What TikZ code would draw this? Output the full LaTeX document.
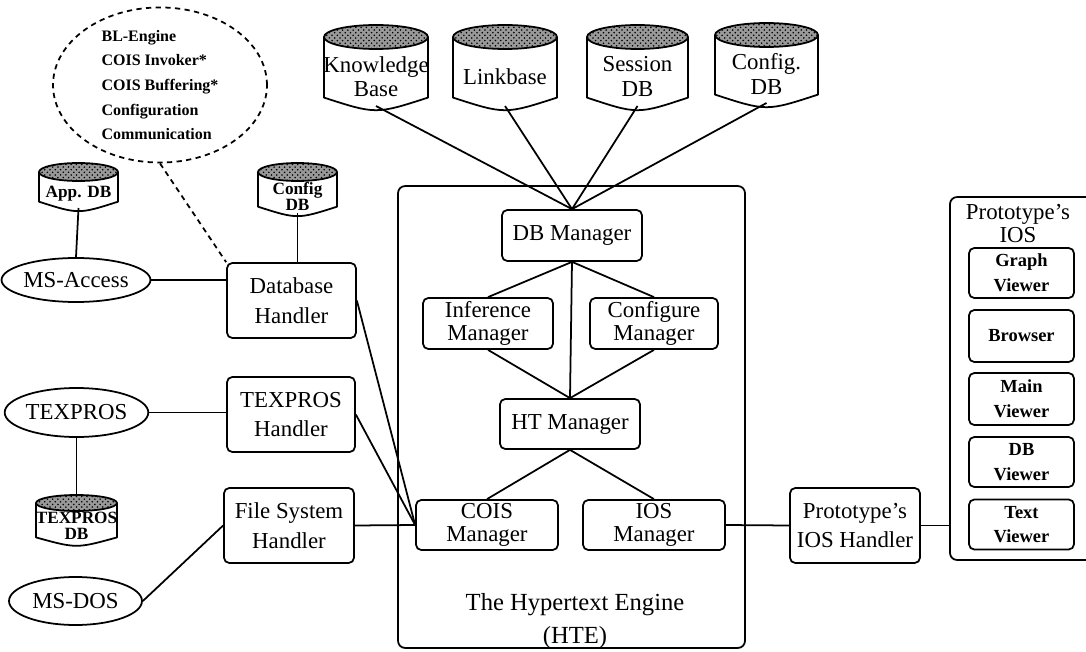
\documentclass[tikz,border=0pt]{standalone}
\usepackage{fontspec}
\setmainfont{Liberation Serif}
\usetikzlibrary{shapes.geometric,patterns}

\tikzset{
  every node/.style={font=\fontsize{13}{17}\selectfont},
  box/.style={draw, rounded corners=3pt, inner sep=0pt, align=center},
  mgr/.style={box, font=\fontsize{13}{13}\selectfont},
  viewer/.style={box, minimum width=2.1cm, minimum height=1cm,
    font=\bfseries\fontsize{10.5}{14}\selectfont},
  sys/.style={draw, ellipse, inner sep=0pt},
  dbtop/.style={fill=black!40, postaction={pattern=crosshatch dots, pattern color=black}},
  dbtext/.style={inner sep=0pt, align=center, font=\fontsize{13}{14}\selectfont},
  smalldb/.style={font=\bfseries\fontsize{9.8}{9}\selectfont},
}

% [options]{name}{x}{top}{width}{height}{top radius}{text}
\newcommand{\dbcyl}[8][]{%
  \coordinate (#2 top) at (#3,#4);
  \draw[dbtop] (#3,#4+#7) ellipse [x radius=#5/2, y radius=#7];
  \draw (#3-#5/2,#4+#7) -- (#3-#5/2,#4+#6-0.7*#7)
     .. controls (#3,#4+#6+0.7*#7) .. (#3+#5/2,#4+#6-0.7*#7) -- (#3+#5/2,#4+#7);
  \node[dbtext, #1, minimum width=#5*0.02cm, minimum height=(#6-2*#7)*0.02cm,
    anchor=south] (#2) at (#3,#4+#6) {#8};
}

\begin{document}
\begin{tikzpicture}[x=0.02cm, y=-0.02cm, line width=1pt, line join=round]
\clip (0,0) rectangle (1086,652);

% stores
\dbcyl{kb}{376}{25}{104}{81}{12}{Knowledge\\Base}
\dbcyl{lb}{505}{25}{104}{81}{12}{Linkbase}
\dbcyl{sdb}{637.5}{25}{101}{81}{12}{Session\\DB}
\dbcyl{cdb}{766.5}{23}{103}{80}{12}{Config.\\DB}
\dbcyl[smalldb]{appdb}{78.5}{163}{79}{45}{9}{App. DB}
\dbcyl[smalldb]{cfgdb}{297.5}{163}{79}{50}{9}{Config\\DB}
\dbcyl[smalldb]{tpdb}{76.5}{495}{81}{48}{8}{TEXPROS\\DB}

\node[draw, dashed, dash pattern=on 3pt off 2.5pt, ellipse, inner sep=0pt,
  minimum width=4.28cm, minimum height=2.88cm, align=left,
  font=\bfseries\fontsize{9.1}{14}\selectfont] (blmod) at (160,85)
  {BL-Engine\\COIS Invoker*\\COIS Buffering*\\Configuration\\Communication};

% the engine
\node[draw, rounded corners=4pt, minimum width=6.94cm, minimum height=9.24cm] (hte) at (571.5,417) {};
\node[font=\fontsize{14}{19}\selectfont, align=center] (htename) at (575,621) {The Hypertext Engine\\(HTE)};
\node[box, minimum width=2.8cm, minimum height=1.02cm] (dbm) at (572,235.5) {DB Manager};
\node[mgr, minimum width=2.6cm, minimum height=1.02cm] (inf) at (488,323.5) {Inference\\Manager};
\node[mgr, minimum width=2.56cm, minimum height=1.02cm] (cfm) at (654,323.5) {Configure\\Manager};
\node[box, minimum width=2.8cm, minimum height=1cm] (htm) at (570,424) {HT Manager};
\node[mgr, minimum width=2.84cm, minimum height=1cm] (cois) at (487,525) {COIS\\Manager};
\node[mgr, minimum width=2.84cm, minimum height=1cm] (iosm) at (654,525) {IOS\\Manager};

% handlers and systems
\node[box, minimum width=2.58cm, minimum height=1.5cm] (dbh) at (291.5,300.5) {Database\\Handler};
\node[box, minimum width=2.56cm, minimum height=1.5cm] (tph) at (291,414.5) {TEXPROS\\Handler};
\node[box, minimum width=2.6cm, minimum height=1.5cm] (fsh) at (289,525.5) {File System\\Handler};
\node[sys, minimum width=2.64cm, minimum height=0.88cm] (msa) at (76,280) {MS-Access};
\node[sys, minimum width=2.62cm, minimum height=0.98cm] (texpros) at (76.5,412.5) {TEXPROS};
\node[sys, minimum width=2.66cm, minimum height=0.96cm] (msdos) at (75.5,601) {MS-DOS};

% prototype side
\node[box, font=\fontsize{13}{16}\selectfont, minimum width=2.6cm, minimum height=1.5cm] (pih) at (855,525.5) {Prototype's\\IOS Handler};
\node[draw, rounded corners=4pt, minimum width=3cm, minimum height=7.26cm] (pios) at (1025,378.5) {};
\node[align=center, font=\fontsize{13}{13}\selectfont] (piosname) at (1018,223.5) {Prototype's\\IOS};
\node[viewer] (graphv) at (1021.5,273) {Graph\\Viewer};
\node[viewer, minimum height=1.04cm] (browser) at (1021.5,336) {Browser};
\node[viewer, minimum height=1.04cm] (mainv) at (1021.5,399) {Main\\Viewer};
\node[viewer] (dbv) at (1021.5,462) {DB\\Viewer};
\node[viewer] (textv) at (1021.5,524.5) {Text\\Viewer};

% connections
\foreach \s in {kb,lb,sdb,cdb}
  \draw (\s.south) -- (dbm.north);
\foreach \t in {inf,cfm,htm}
  \draw (dbm.south) -- (\t.north);
\draw (inf.south) -- (htm.north);
\draw (cfm.south) -- (htm.north);
\draw (htm.south) -- (cois.north);
\draw (htm.south) -- (iosm.north);

\draw (appdb.south) -- (msa.north);
\draw (msa.east) -- (msa.east -| dbh.west);
\draw (cfgdb.south) -- (cfgdb.south |- dbh.north);
\draw (texpros.east) -- (texpros.east -| tph.west);
\draw (texpros.south) -- (tpdb top);
\draw (msdos.east) -- (fsh.west);
\foreach \h in {dbh,tph,fsh}
  \draw (\h.east) -- (cois.west);
\draw[dashed, dash pattern=on 3pt off 2.5pt] (blmod.south) -- (dbh.north west);

\draw (iosm.east) -- (pih.west);
\draw (pih.east) -- (pih.east -| pios.west);

\end{tikzpicture}
\end{document}
